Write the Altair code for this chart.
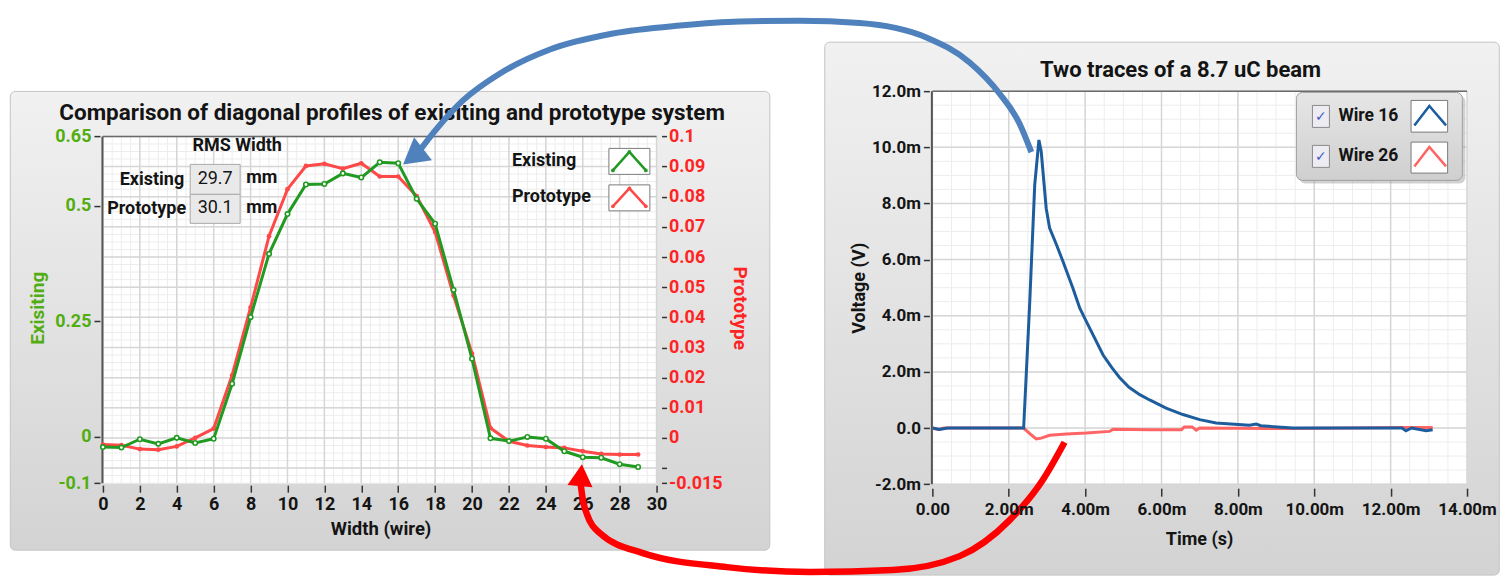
import altair as alt
import pandas as pd
import numpy as np

# ---------------- data ----------------
wires = list(range(30))
existing = [-0.022, -0.023, -0.005, -0.015, -0.002, -0.013, -0.004, 0.115, 0.259, 0.396,
            0.482, 0.546, 0.547, 0.570, 0.561, 0.594, 0.592, 0.515, 0.461, 0.318,
            0.169, -0.003, -0.009, 0.000, -0.004, -0.031, -0.044, -0.045, -0.059, -0.065]
prototype = [-0.0022, -0.0024, -0.0037, -0.0039, -0.0028, 0.0000, 0.0031, 0.0208, 0.0433, 0.0669,
             0.0825, 0.0902, 0.0909, 0.0893, 0.0911, 0.0867, 0.0867, 0.0802, 0.0683, 0.0472,
             0.0280, 0.0033, -0.0011, -0.0025, -0.0030, -0.0033, -0.0044, -0.0053, -0.0055, -0.0055]
series_names = ["Existing", "Prototype"]
rms_values = ["29.7", "30.1"]
rms_unit = "mm"

left_x_ticks = [0, 2, 4, 6, 8, 10, 12, 14, 16, 18, 20, 22, 24, 26, 28, 30]
left_y_ticks = [-0.1, 0, 0.25, 0.5, 0.65]
proto_ticks = [-0.015, -0.01, 0, 0.01, 0.02, 0.03, 0.04, 0.05, 0.06, 0.07, 0.08, 0.09, 0.1]

wire16_t = [0.0, 0.19, 0.4, 2.39, 2.55, 2.68, 2.79, 2.85, 2.98, 3.07, 3.25, 3.42, 3.68, 3.86,
            4.03, 4.25, 4.47, 4.70, 4.90, 5.15, 5.43, 5.69, 6.12, 6.56, 7.00, 7.43, 8.30,
            8.48, 8.60, 9.44, 12.30, 12.40, 12.55, 12.93, 13.10]
wire16_v = [0.0, -0.05, 0.0, 0.0, 4.5, 8.66, 10.26, 9.85, 7.83, 7.12, 6.53, 5.93, 4.98, 4.27,
            3.80, 3.20, 2.60, 2.15, 1.80, 1.45, 1.19, 1.00, 0.71, 0.48, 0.30, 0.18, 0.10,
            0.14, 0.08, 0.0, 0.0, -0.10, 0.0, -0.10, -0.06]
wire26_t = [0.0, 0.15, 0.3, 2.39, 2.55, 2.72, 2.85, 3.07, 3.51, 4.03, 4.64, 4.73, 5.69, 6.52,
            6.60, 6.80, 6.91, 7.00, 9.44, 12.30, 12.60, 13.10]
wire26_v = [0.0, -0.05, 0.0, 0.0, -0.20, -0.39, -0.36, -0.26, -0.21, -0.18, -0.12, -0.04, -0.06,
            -0.06, 0.04, 0.04, -0.08, 0.0, -0.02, 0.02, 0.02, 0.02]
trace_names = ["Wire 16", "Wire 26"]
time_ticks = [0, 2, 4, 6, 8, 10, 12, 14]
volt_ticks = [-2, 0, 2, 4, 6, 8, 10, 12]

left_title = "Comparison of diagonal profiles of exisiting and prototype system"
right_title = "Two traces of a 8.7 uC beam"

# ---------------- layout / style ----------------
FONT = "Roboto"
SYM_FONT = "DejaVu Sans"
GREEN = "#219a21"
GREEN_LBL = "#52ad12"
RED = "#ff4848"
RED_LBL = "#ff2424"
BLUE = "#1d5d9d"
RED_R = "#ff6464"
ARROW_BLUE = "#4f81bd"
ARROW_RED = "#ff0000"
INK = "#141414"

FRAME = (8, 16, 1500, 577)  # page box that fixes the drawing origin
LX0, LY0 = 102.7, 90.7      # page position of left chart origin
LW, LH = 554, 392.3
LTOP = 136 - LY0            # data top inside left chart
RX0, RY0 = 932.7, 90.7
RW, RH = 535, 393.3

one = pd.DataFrame({"k": [0]})
PIX = alt.Scale(domain=[0, 1000], range=[0, 1000], nice=False, zero=False)

panel_grad = alt.Gradient(gradient="linear",
                          stops=[alt.GradientStop(color="#f1f1f1", offset=0),
                                 alt.GradientStop(color="#e2e2e2", offset=0.5),
                                 alt.GradientStop(color="#d3d3d3", offset=1)],
                          x1=0, x2=0, y1=0, y2=1)
legend_grad = alt.Gradient(gradient="linear",
                           stops=[alt.GradientStop(color="#e6e6e6", offset=0),
                                  alt.GradientStop(color="#cfcfcf", offset=1)],
                           x1=0, x2=0, y1=0, y2=1)


def rect(x0, y0, x1, y1, ox, oy, **kw):
    return alt.Chart(one).mark_rect(**kw).encode(
        x=alt.value(x0 - ox), x2=alt.value(x1 - ox),
        y=alt.value(y0 - oy), y2=alt.value(y1 - oy))


def rule(x0, y0, x1, y1, ox, oy, **kw):
    return alt.Chart(one).mark_rule(**kw).encode(
        x=alt.value(x0 - ox), x2=alt.value(x1 - ox),
        y=alt.value(y0 - oy), y2=alt.value(y1 - oy))


def text(x, y, s, ox, oy, size=16, color=INK, weight="bold", align="center", angle=0, font=FONT):
    return alt.Chart(one).mark_text(text=s, font=font, fontSize=size, fontWeight=weight,
                                    color=color, align=align, baseline="middle",
                                    angle=angle).encode(
        x=alt.value(x - ox), y=alt.value(y - oy))


def path(pts, ox, oy, point=False, **kw):
    df = pd.DataFrame({"px": [p[0] - ox for p in pts],
                       "py": [p[1] - oy for p in pts],
                       "i": list(range(len(pts)))})
    return alt.Chart(df).mark_line(point=point, **kw).encode(
        x=alt.X("px:Q", scale=PIX, axis=None),
        y=alt.Y("py:Q", scale=PIX, axis=None),
        order=alt.Order("i:Q"))


def head(tip_x, tip_y, angle, scale, color, ox, oy):
    a = np.deg2rad(angle)
    dx, dy = np.sin(a), -np.cos(a)
    cx, cy = tip_x - dx * scale, tip_y - dy * scale
    return alt.Chart(one).mark_point(shape="M0,-1L1,0.75L-1,0.75Z", filled=True, opacity=1,
                                     size=(2 * scale) ** 2, angle=angle, color=color).encode(
        x=alt.value(cx - ox), y=alt.value(cy - oy))


# ---------------- left chart ----------------
xL = alt.Scale(domain=[0, 30], nice=False, zero=False)
yE = alt.Scale(domain=[-0.1, 0.65], range=[LH, LTOP], nice=False, zero=False)
yP = alt.Scale(domain=[-0.015, 0.1], range=[LH, LTOP], nice=False, zero=False)

x_axis_L = alt.Axis(values=left_x_ticks, title=None, domain=False, grid=False,
                    tickColor="#333333", tickSize=7, tickWidth=1.5, offset=2,
                    labelFont=FONT, labelFontSize=18, labelFontWeight="bold", labelColor=INK,
                    labelPadding=3, labelFlush=False, labelOverlap=False, zindex=1)
y_axis_E = alt.Axis(orient="left", values=left_y_ticks, title=None, domain=False, grid=False,
                    tickColor="#333333", tickSize=6, tickWidth=1.5, offset=3,
                    labelFont=FONT, labelFontSize=18, labelFontWeight="bold", labelColor=GREEN_LBL,
                    labelPadding=3, labelExpr="'' + datum.value", labelOverlap=False, zindex=1)
y_axis_P = alt.Axis(orient="right", values=proto_ticks, title=None, domain=False, grid=False,
                    tickColor="#333333", tickSize=5, tickWidth=1.5, offset=5,
                    labelFont=FONT, labelFontSize=18, labelFontWeight="bold", labelColor=RED_LBL,
                    labelPadding=2, labelExpr="datum.value == -0.01 ? '' : '' + datum.value",
                    labelOverlap=False, zindex=1)

ldf = pd.DataFrame({"wire": wires, "existing": existing, "prototype": prototype})

minor_x = np.arange(0, 30.001, 0.5)
major_x = np.arange(0, 30.001, 2)
minor_yp = np.arange(-0.015, 0.10001, 0.0025)
major_yp = np.arange(-0.01, 0.10001, 0.01)

vgrid_minor = alt.Chart(pd.DataFrame({"g": minor_x})).mark_rule(color="#ededed", strokeWidth=1).encode(
    x=alt.X("g:Q", scale=xL, axis=None), y=alt.value(LTOP), y2=alt.value(LH))
vgrid_major = alt.Chart(pd.DataFrame({"g": major_x})).mark_rule(color="#d6d6d6", strokeWidth=1.5).encode(
    x=alt.X("g:Q", scale=xL, axis=None), y=alt.value(LTOP), y2=alt.value(LH))
hgrid_minor = alt.Chart(pd.DataFrame({"g": minor_yp})).mark_rule(color="#ededed", strokeWidth=1).encode(
    y=alt.Y("g:Q", scale=yP, axis=None), x=alt.value(0), x2=alt.value(LW))
hgrid_major = alt.Chart(pd.DataFrame({"g": major_yp})).mark_rule(color="#d6d6d6", strokeWidth=1.5).encode(
    y=alt.Y("g:Q", scale=yP, axis=None), x=alt.value(0), x2=alt.value(LW))

proto_line = alt.Chart(ldf).mark_line(
    color=RED, strokeWidth=3,
    point=alt.OverlayMarkDef(filled=True, size=22, color=RED)).encode(
    x=alt.X("wire:Q", scale=xL, axis=None),
    y=alt.Y("prototype:Q", scale=yP, axis=y_axis_P))
exist_line = alt.Chart(ldf).mark_line(
    color=GREEN, strokeWidth=3,
    point=alt.OverlayMarkDef(filled=False, fill="white", size=20, color=GREEN, strokeWidth=1.6)).encode(
    x=alt.X("wire:Q", scale=xL, axis=x_axis_L),
    y=alt.Y("existing:Q", scale=yE, axis=y_axis_E))

left_layers = [
    rect(FRAME[0], FRAME[1], FRAME[2], FRAME[3], LX0, LY0, fill="white"),
    rect(10, 91, 770, 550, LX0, LY0, fill=panel_grad, stroke="#c4c4c4", strokeWidth=1, cornerRadius=5),
    rect(102.7, 136, 656.7, 483, LX0, LY0, fill="white"),
    vgrid_minor, hgrid_minor, vgrid_major, hgrid_major,
    rule(102.7, 136, 656.7, 136, LX0, LY0, color="#6a6a6a", strokeWidth=1.5),
    rule(102.2, 136, 102.2, 483, LX0, LY0, color="#555555", strokeWidth=2),
    proto_line, exist_line,
    text(392, 113, left_title, LX0, LY0, size=22.5),
    text(38, 308, "Exisiting", LX0, LY0, size=19, color=GREEN_LBL, angle=270),
    text(740, 308, series_names[1], LX0, LY0, size=19, color=RED_LBL, angle=90),
    text(381, 529, "Width (wire)", LX0, LY0, size=18.5),
    # RMS width table
    text(237, 146, "RMS Width", LX0, LY0, size=18),
    rect(190, 164, 240, 194, LX0, LY0, fill="#e9e9e9", stroke="#a9a9a9", strokeWidth=1),
    rect(190, 194, 240, 223, LX0, LY0, fill="#e9e9e9", stroke="#a9a9a9", strokeWidth=1),
    text(184, 180, series_names[0], LX0, LY0, size=18, align="right"),
    text(186, 209, series_names[1], LX0, LY0, size=18, align="right"),
    text(215, 179, rms_values[0], LX0, LY0, size=18, weight="normal"),
    text(215, 208, rms_values[1], LX0, LY0, size=18, weight="normal"),
    text(246, 178, rms_unit, LX0, LY0, size=18, align="left"),
    text(246, 208, rms_unit, LX0, LY0, size=18, align="left"),
    # legend
    text(512, 161, series_names[0], LX0, LY0, size=18, align="left"),
    text(512, 197, series_names[1], LX0, LY0, size=18, align="left"),
    rect(609, 148, 650, 174, LX0, LY0, fill="white", stroke="#7a7a7a", strokeWidth=1),
    rect(609, 184.5, 650, 210.5, LX0, LY0, fill="white", stroke="#7a7a7a", strokeWidth=1),
    path([(613, 170), (629.5, 151.5), (646, 170)], LX0, LY0, color=GREEN, strokeWidth=2.5,
         point=alt.OverlayMarkDef(filled=True, size=14, color=GREEN)),
    path([(613, 206), (629.5, 188), (646, 206)], LX0, LY0, color=RED, strokeWidth=2.5,
         point=alt.OverlayMarkDef(filled=True, size=14, color=RED)),
]
left = alt.layer(*left_layers).resolve_scale(x="independent", y="independent").properties(width=LW, height=LH)

# ---------------- right chart ----------------
xR = alt.Scale(domain=[0, 14], nice=False, zero=False)
yR = alt.Scale(domain=[-2, 12], nice=False, zero=False)

x_axis_R = alt.Axis(values=time_ticks, title=None, domain=False, grid=False,
                    tickColor="#333333", tickSize=8, tickWidth=1.5, offset=4,
                    labelFont=FONT, labelFontSize=17, labelFontWeight="bold", labelColor=INK,
                    labelPadding=5, labelFlush=False, labelOverlap=False, zindex=1,
                    labelExpr="datum.value == 0 ? '0.00' : format(datum.value, '.2f') + 'm'")
y_axis_R = alt.Axis(values=volt_ticks, title=None, domain=False, grid=False,
                    tickColor="#333333", tickSize=6, tickWidth=1.5, offset=3,
                    labelFont=FONT, labelFontSize=17, labelFontWeight="bold", labelColor=INK,
                    labelPadding=3, labelOverlap=False, zindex=1,
                    labelExpr="datum.value == 0 ? '0.0' : (datum.value < 0 ? '-' : '') + format(abs(datum.value), '.1f') + 'm'")

w16 = pd.DataFrame({"t": wire16_t, "v": wire16_v})
w26 = pd.DataFrame({"t": wire26_t, "v": wire26_v})

r_minor_x = np.arange(0, 14.001, 0.5)
r_major_x = np.arange(0, 14.001, 2)
r_minor_y = np.arange(-2, 12.001, 0.5)
r_major_y = np.arange(-2, 12.001, 2)

r_vgrid_minor = alt.Chart(pd.DataFrame({"g": r_minor_x})).mark_rule(color="#ededed", strokeWidth=1).encode(
    x=alt.X("g:Q", scale=xR, axis=None), y=alt.value(0), y2=alt.value(RH))
r_vgrid_major = alt.Chart(pd.DataFrame({"g": r_major_x})).mark_rule(color="#d6d6d6", strokeWidth=1.5).encode(
    x=alt.X("g:Q", scale=xR, axis=None), y=alt.value(0), y2=alt.value(RH))
r_hgrid_minor = alt.Chart(pd.DataFrame({"g": r_minor_y})).mark_rule(color="#ededed", strokeWidth=1).encode(
    y=alt.Y("g:Q", scale=yR, axis=None), x=alt.value(0), x2=alt.value(RW))
r_hgrid_major = alt.Chart(pd.DataFrame({"g": r_major_y})).mark_rule(color="#d6d6d6", strokeWidth=1.5).encode(
    y=alt.Y("g:Q", scale=yR, axis=None), x=alt.value(0), x2=alt.value(RW))

w26_line = alt.Chart(w26).mark_line(color=RED_R, strokeWidth=3).encode(
    x=alt.X("t:Q", scale=xR, axis=None), y=alt.Y("v:Q", scale=yR, axis=None))
w16_line = alt.Chart(w16).mark_line(color=BLUE, strokeWidth=3).encode(
    x=alt.X("t:Q", scale=xR, axis=x_axis_R), y=alt.Y("v:Q", scale=yR, axis=y_axis_R))

blue_arrow = [(1031.7, 151.7), (1020, 123.3), (1000, 93.3), (970, 62), (926.7, 37),
              (860, 22.5), (800, 20.3), (740, 21), (680, 25), (613, 33), (550, 49),
              (500, 73), (463, 100), (437, 128), (419, 151)]
red_arrow = [(580.5, 482), (583, 500), (587, 514), (600, 533), (643, 553), (727, 567),
             (810, 572), (893, 570), (960, 556), (1010, 520), (1043, 480), (1065, 442)]

right_layers = [
    rect(825, 41.7, 1500, 575, RX0, RY0, fill=panel_grad, stroke="#c4c4c4", strokeWidth=1, cornerRadius=5),
    rect(932.7, 90.7, 1467.7, 484, RX0, RY0, fill="white"),
    r_vgrid_minor, r_hgrid_minor, r_vgrid_major, r_hgrid_major,
    rule(932.7, 90.7, 1467.7, 90.7, RX0, RY0, color="#6a6a6a", strokeWidth=1.5),
    rule(932.2, 90.7, 932.2, 484, RX0, RY0, color="#555555", strokeWidth=2),
    w26_line, w16_line,
    text(1181, 70, right_title, RX0, RY0, size=22),
    text(860, 288, "Voltage (V)", RX0, RY0, size=18, angle=270),
    text(1200, 540, "Time (s)", RX0, RY0, size=18),
    # legend
    rect(1300, 95, 1466, 183, RX0, RY0, fill="#9a9a9a", opacity=0.45, cornerRadius=6),
    rect(1297, 92, 1463, 180, RX0, RY0, fill=legend_grad, stroke="#a0a0a0", strokeWidth=1, cornerRadius=6),
    rect(1313, 105, 1330, 127, RX0, RY0, fill="#ececf2", stroke="#8a8a8a", strokeWidth=1),
    rect(1313, 145, 1330, 167, RX0, RY0, fill="#ececf2", stroke="#8a8a8a", strokeWidth=1),
    text(1321.5, 116.5, "✓", RX0, RY0, size=14, color="#4b5cc4", weight="normal", font=SYM_FONT),
    text(1321.5, 156.5, "✓", RX0, RY0, size=14, color="#4b5cc4", weight="normal", font=SYM_FONT),
    text(1339, 116, trace_names[0], RX0, RY0, size=17.5, align="left"),
    text(1339, 156, trace_names[1], RX0, RY0, size=17.5, align="left"),
    rect(1411.7, 100, 1448.3, 131.7, RX0, RY0, fill="white", stroke="#7a7a7a", strokeWidth=1),
    rect(1411.7, 141.7, 1448.3, 172.7, RX0, RY0, fill="white", stroke="#7a7a7a", strokeWidth=1),
    path([(1415, 125), (1430, 105.5), (1446.7, 125)], RX0, RY0, color=BLUE, strokeWidth=2.5),
    path([(1415, 166), (1430, 146.5), (1446.7, 166)], RX0, RY0, color=RED_R, strokeWidth=2.5),
    # arrows
    path(blue_arrow, RX0, RY0, color=ARROW_BLUE, strokeWidth=6, interpolate="monotone"),
    head(403, 164, 232, 14.5, ARROW_BLUE, RX0, RY0),
    path(red_arrow, RX0, RY0, color=ARROW_RED, strokeWidth=6.5, interpolate="monotone"),
    head(582, 464, 5, 12.6, ARROW_RED, RX0, RY0),
]
right = alt.layer(*right_layers).resolve_scale(x="independent", y="independent").properties(width=RW, height=RH)

chart = alt.hconcat(left, right, spacing=276, bounds="flush").properties(
    padding=0, background="white").configure_view(stroke=None)

chart.save("out.html", embed_options={"renderer": "svg", "actions": False})
